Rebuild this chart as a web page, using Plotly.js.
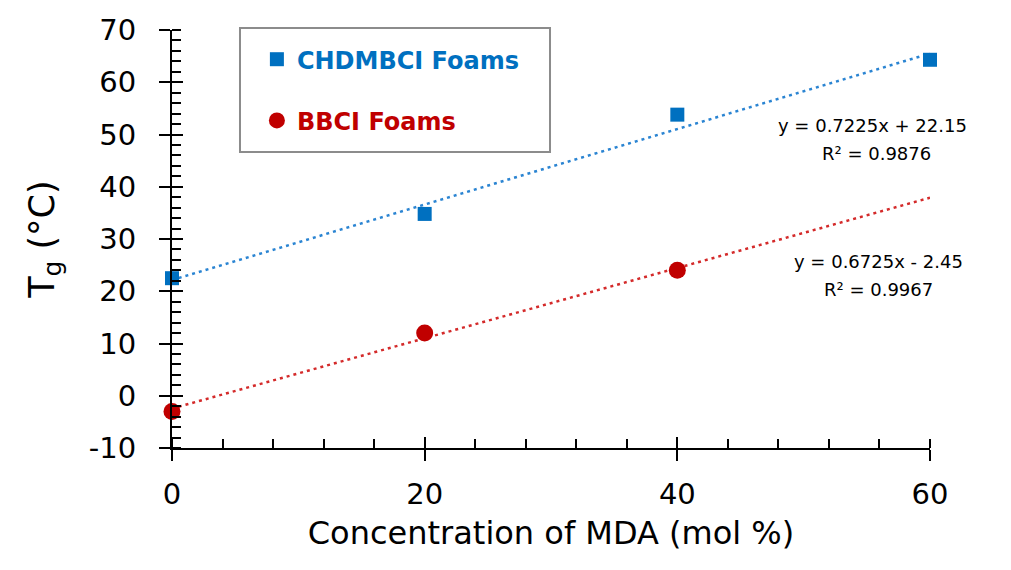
<!DOCTYPE html>
<html>
<head>
<meta charset="utf-8">
<script src="https://cdn.plot.ly/plotly-3.0.1.min.js"></script>
<style>html,body{margin:0;padding:0;background:#fff;}#chart{width:1011px;height:570px;}</style>
</head>
<body>
<div id="chart"></div>
<script>
// Data
const chdX = [0, 20, 40, 60];
const chdY = [22.5, 34.8, 53.8, 64.3];
const bbX = [0, 20, 40];
const bbY = [-3, 12, 24];
// Trendline coefficients shown on the chart
const chdFit = {slope: 0.7225, intercept: 22.15, r2: '0.9876'};
const bbFit = {slope: 0.6725, intercept: -2.45, r2: '0.9967'};
const fitX = [0, 60];
// Axis tick labels
const yTickVals = [-10, 0, 10, 20, 30, 40, 50, 60, 70];
const yTickText = ['-10', '0', '10', '20', '30', '40', '50', '60', '70'];
const xTickVals = [0, 20, 40, 60];
const xTickText = ['0', '20', '40', '60'];

const FONT = 'DejaVu Sans, Verdana, sans-serif';
const BLUE = '#0070C0', RED = '#C00000';

const traces = [
  {x: fitX, y: fitX.map(v => chdFit.slope * v + chdFit.intercept), mode: 'lines',
   line: {color: '#2A84D2', width: 2.5, dash: '3px,4px'}, showlegend: false, hoverinfo: 'skip', cliponaxis: false},
  {x: fitX, y: fitX.map(v => bbFit.slope * v + bbFit.intercept), mode: 'lines',
   line: {color: '#D42A2A', width: 2.5, dash: '3px,4px'}, showlegend: false, hoverinfo: 'skip', cliponaxis: false},
  {x: chdX, y: chdY, mode: 'markers', name: '<span style="color:' + BLUE + '"><b>CHDMBCI Foams</b></span>',
   marker: {symbol: 'square', size: 14, color: BLUE}, legendgroup: 'a', cliponaxis: false},
  {x: bbX, y: bbY, mode: 'markers', name: '<span style="color:' + RED + '"><b>BBCI Foams</b></span>',
   marker: {symbol: 'circle', size: 17, color: RED}, legendgroup: 'b', cliponaxis: false},
  {x: [0], y: [0], xaxis: 'x2', yaxis: 'y2', mode: 'markers', marker: {opacity: 0}, showlegend: false, hoverinfo: 'skip'}
];

const annFont = {size: 18, family: FONT, color: '#000'};
const layout = {
  width: 1011, height: 570,
  margin: {l: 172, r: 81, t: 30, b: 122},
  paper_bgcolor: '#fff', plot_bgcolor: '#fff',
  font: {family: FONT, color: '#000'},
  showlegend: true,
  legend: {x: 0.112, y: 0.983, xanchor: 'left', yanchor: 'top',
    bgcolor: 'rgba(0,0,0,0)', borderwidth: 0,
    font: {family: FONT, size: 24}, tracegroupgap: 27, traceorder: 'grouped',
    itemsizing: 'trace'},
  shapes: [
    {type: 'rect', xref: 'paper', yref: 'paper', x0: 0.0897, x1: 0.4987, y0: 0.708, y1: 1.0048,
     line: {color: '#8C8C8C', width: 2}, fillcolor: 'rgba(0,0,0,0)', layer: 'above'}
  ],
  xaxis: {range: [0, 60], tickvals: xTickVals, ticktext: xTickText, ticks: 'outside', ticklen: 11, tickwidth: 2,
    tickcolor: '#000', showline: true, linecolor: '#000', linewidth: 2, showgrid: false, zeroline: false,
    tickfont: {size: 29, family: FONT}, ticklabelstandoff: 8,
    minor: {dtick: 4, ticks: 'inside', ticklen: 9, tickwidth: 2, tickcolor: '#000', showgrid: false},
    title: {text: 'Concentration of MDA (mol %)', font: {size: 32, family: FONT}, standoff: 12}},
  yaxis: {range: [-10, 70], tickvals: yTickVals, ticktext: yTickText, ticks: 'outside', ticklen: 11, tickwidth: 2,
    tickcolor: '#000', showline: true, linecolor: '#000', linewidth: 2, showgrid: false, zeroline: false,
    tickfont: {size: 29, family: FONT}, ticklabelstandoff: 17,
    minor: {dtick: 2, ticks: 'inside', ticklen: 9, tickwidth: 2, tickcolor: '#000', showgrid: false},
    title: {text: 'T<sub>g</sub> (°C)', font: {size: 35, family: FONT}, standoff: 24}},
  xaxis2: {overlaying: 'x', range: [0, 60], tickvals: xTickVals, ticks: 'inside', ticklen: 11, tickwidth: 2,
    tickcolor: '#000', showticklabels: false, showgrid: false, zeroline: false, showline: false},
  yaxis2: {overlaying: 'y', range: [-10, 70], tickvals: yTickVals, ticks: 'inside', ticklen: 11, tickwidth: 2,
    tickcolor: '#000', showticklabels: false, showgrid: false, zeroline: false, showline: false},
  annotations: [
    {x: 0.9235, y: 0.7727, xref: 'paper', yref: 'paper', xanchor: 'center', yanchor: 'middle', showarrow: false,
     text: 'y = ' + chdFit.slope + 'x + ' + chdFit.intercept, font: annFont},
    {x: 0.9295, y: 0.7057, xref: 'paper', yref: 'paper', xanchor: 'center', yanchor: 'middle', showarrow: false,
     text: 'R² = ' + chdFit.r2, font: annFont},
    {x: 0.9327, y: 0.445, xref: 'paper', yref: 'paper', xanchor: 'center', yanchor: 'middle', showarrow: false,
     text: 'y = ' + bbFit.slope + 'x - ' + Math.abs(bbFit.intercept), font: annFont},
    {x: 0.9314, y: 0.378, xref: 'paper', yref: 'paper', xanchor: 'center', yanchor: 'middle', showarrow: false,
     text: 'R² = ' + bbFit.r2, font: annFont}
  ]
};

Plotly.newPlot('chart', traces, layout, {displayModeBar: false, staticPlot: true});
</script>
</body>
</html>
